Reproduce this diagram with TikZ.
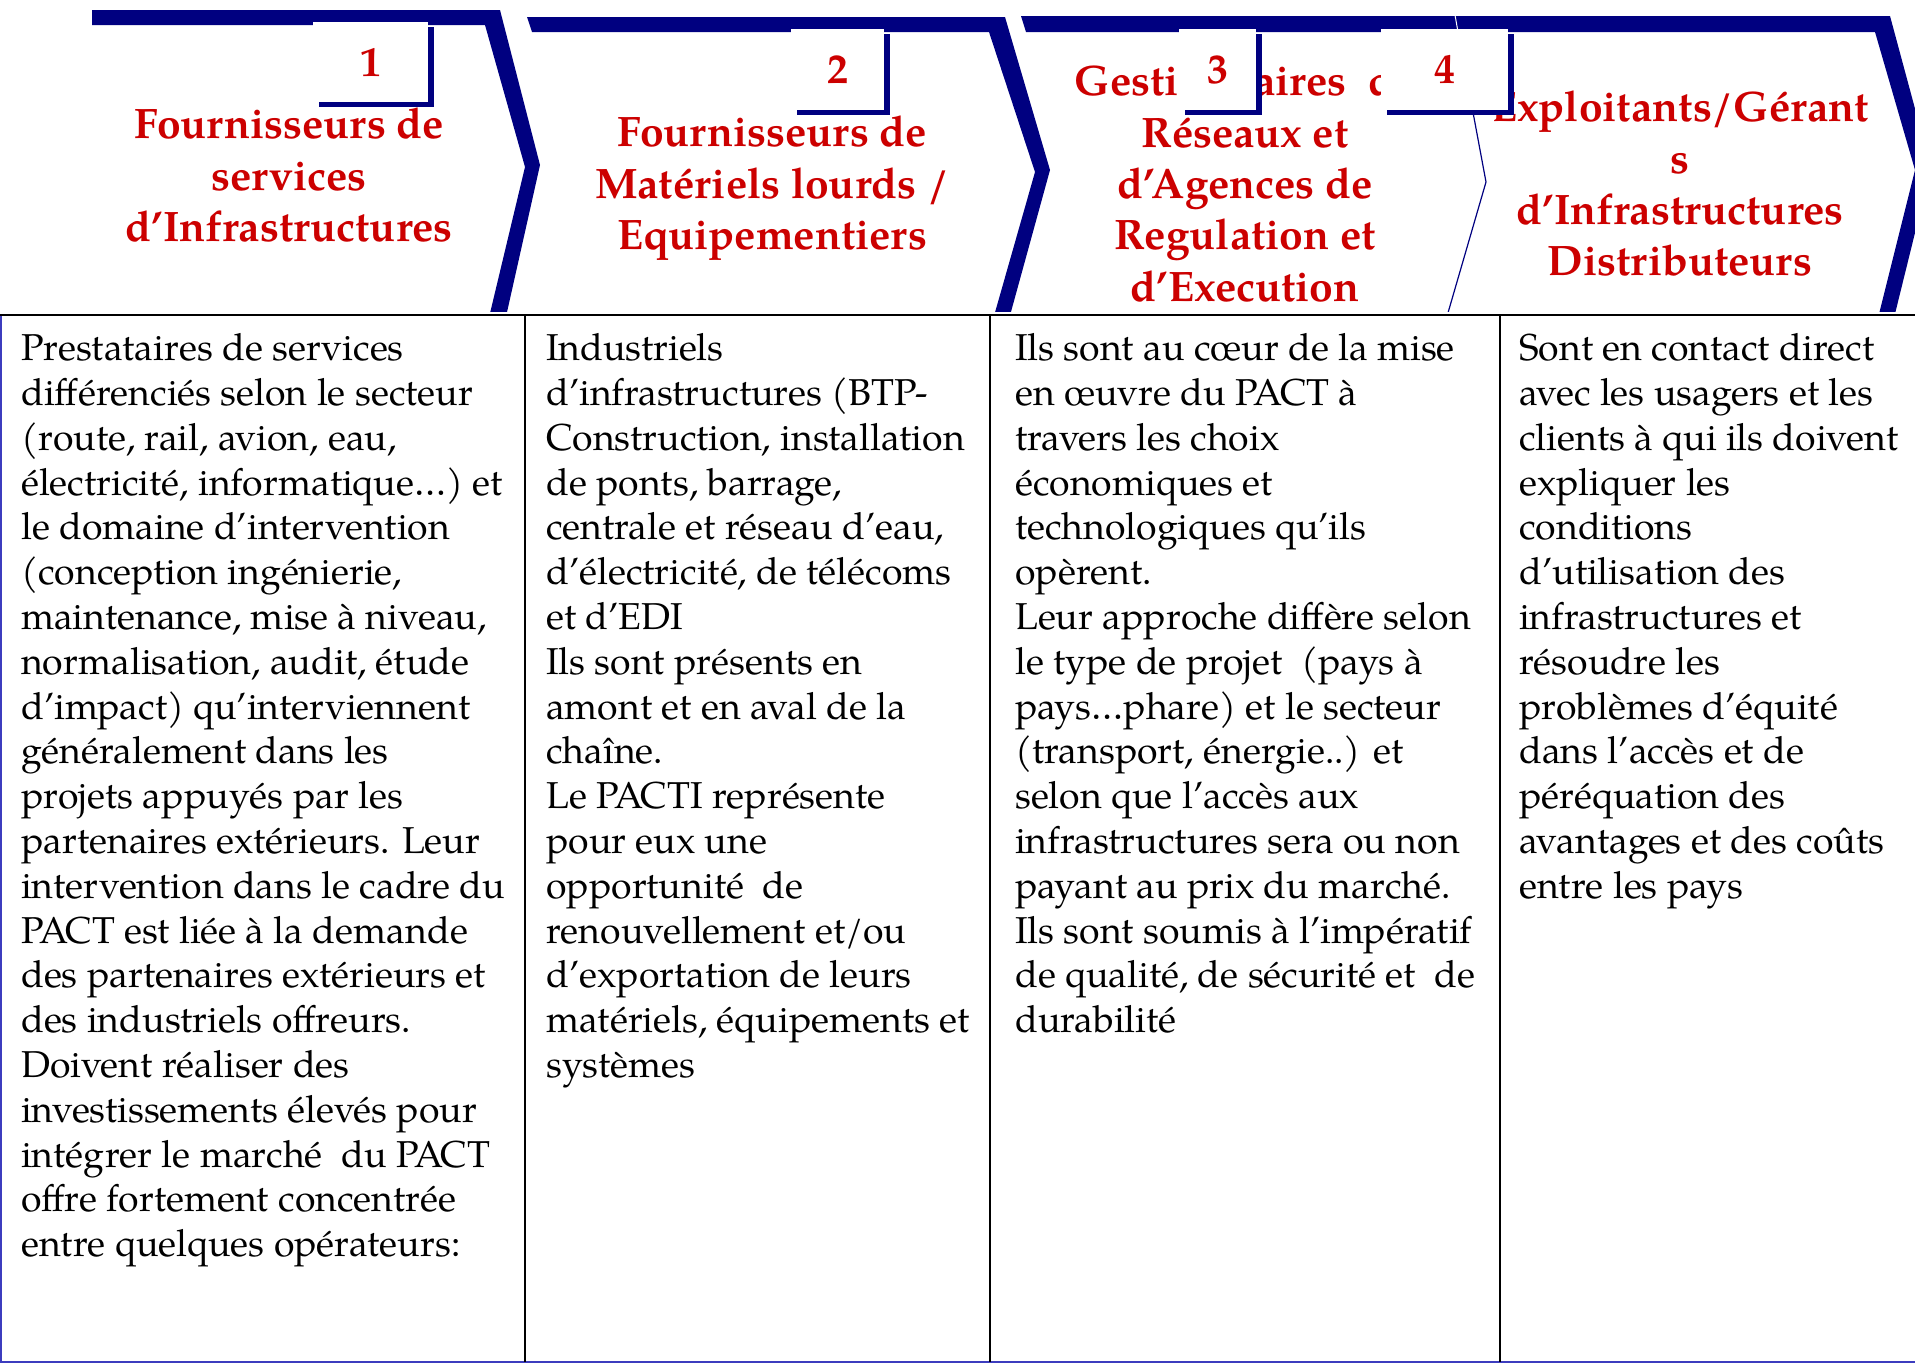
\documentclass[tikz,border=0pt]{standalone}
\usepackage{fontspec}
\setmainfont{TeX Gyre Pagella}
\usetikzlibrary{shadows}
\definecolor{navy}{RGB}{0,0,128}
\definecolor{hdred}{RGB}{204,0,0}
\definecolor{rimblue}{RGB}{60,60,190}
\begin{document}
\begin{tikzpicture}[x=1pt,y=-1pt,
  band/.style={fill=navy,draw=none},
  numbox/.style={fill=white,draw=none,inner sep=0,text=hdred,
     font=\bfseries\fontsize{42}{48}\selectfont,
     drop shadow={shadow xshift=5.5pt,shadow yshift=-5pt,fill=navy,opacity=1}},
  head/.style={text=hdred,font=\bfseries\fontsize{42.6}{51.3}\selectfont,
     align=center,anchor=north,inner sep=0},
  body/.style={font=\fontsize{37.4}{44.8}\selectfont,align=left,
     anchor=north west,inner sep=0},
  sep/.style={draw=black,line width=2.2},
  rim/.style={draw=rimblue,line width=2}]
\useasboundingbox (0,0) rectangle (1915,1365);
\fill[white] (0,0) rectangle (1915,1365);
% chevrons
\begin{scope}
\clip (0,0) rectangle (1915,311);
\fill[band] (92,10) -- (500,10) -- (540,165) -- (503,330) -- (486,330)
   -- (525,167) -- (485,25) -- (92,25) -- cycle;
\fill[band] (527,17) -- (1005,17) -- (1050,170) -- (1006,330) -- (990,330)
   -- (1035,172) -- (989,32) -- (532,32) -- cycle;
\fill[band] (1021,16) -- (1890,16) -- (1931,168) -- (1891,330) -- (1875,330)
   -- (1915,170) -- (1875,32) -- (1026,32) -- cycle;
\draw[white,line width=1] (1455,15) -- (1458,32);
\draw[navy,line width=1.2] (1458,32) -- (1486,182) -- (1443,330);
\end{scope}
% header texts
\node[head] (h1) at (289,108.1) {Fournisseurs de\\services\\d’Infrastructures};
\node[head] (h2) at (772,116.1) {Fournisseurs de\\Matériels lourds /\\Equipementiers};
\node[head] (h3) at (1245,65.1) {Gestionnaires\ \ de\\Réseaux et\\d’Agences de\\Regulation et\\d’Execution};
\node[head] (h4) at (1680,91.1) {Exploitants/Gérant\\s\\d’Infrastructures\\Distributeurs};
% number boxes
\node[numbox,minimum width=115,minimum height=80] (n1) at (370.5,62) {\raisebox{-2pt}{1}};
\node[numbox,minimum width=93,minimum height=81] (n2) at (837.5,69.5) {\raisebox{-2pt}{2}};
\node[numbox,minimum width=77,minimum height=81] (n3) at (1217.5,69.5) {\raisebox{-2pt}{3}};
\node[numbox,minimum width=127,minimum height=81] (n4) at (1444.5,69.5) {\raisebox{-2pt}{4}};
% table
\fill[white] (0,315) rectangle (1915,1365);
\draw[rim] (1,315) -- (1,1362) -- (1915,1362);
\draw[sep,line width=2.8] (0,315) -- (1915,315);
\draw[sep] (525,315) -- (525,1362);
\draw[sep,line width=1.5] (990,315) -- (990,1362);
\draw[sep] (1500,315) -- (1500,1362);
% body texts
\node[body] (c1) at (21,329.1) {\strut Prestataires de services\\
différenciés selon le secteur\\
(route, rail, avion, eau,\\
électricité, informatique…) et\\
le domaine d’intervention\\
(conception ingénierie,\\
maintenance, mise à niveau,\\
normalisation, audit, étude\\
d’impact) qu’interviennent\\
généralement dans les\\
projets appuyés par les\\
partenaires extérieurs. Leur\\
intervention dans le cadre du\\
PACT est liée à la demande\\
des partenaires extérieurs et\\
des industriels offreurs.\\
Doivent réaliser des\\
investissements élevés pour\\
intégrer le marché\ \ du PACT\\
offre fortement concentrée\\
entre quelques opérateurs:};
\node[body] (c2) at (546,329.1) {\strut Industriels\\
d’infrastructures (BTP-\\
Construction, installation\\
de ponts, barrage,\\
centrale et réseau d’eau,\\
d’électricité, de télécoms\\
et d’EDI\\
Ils sont présents en\\
amont et en aval de la\\
chaîne.\\
Le PACTI représente\\
pour eux une\\
opportunité\ \ de\\
renouvellement et/ou\\
d’exportation de leurs\\
matériels, équipements et\\
systèmes};
\node[body] (c3) at (1015,329.1) {\strut Ils sont au cœur de la mise\\
en œuvre du PACT à\\
travers les choix\\
économiques et\\
technologiques qu’ils\\
opèrent.\\
Leur approche diffère selon\\
le type de projet\ \ (pays à\\
pays…phare) et le secteur\\
(transport, énergie..) et\\
selon que l’accès aux\\
infrastructures sera ou non\\
payant au prix du marché.\\
Ils sont soumis à l’impératif\\
de qualité, de sécurité et\ \ de\\
durabilité};
\node[body] (c4) at (1519,329.1) {\strut Sont en contact direct\\
avec les usagers et les\\
clients à qui ils doivent\\
expliquer les\\
conditions\\
d’utilisation des\\
infrastructures et\\
résoudre les\\
problèmes d’équité\\
dans l’accès et de\\
péréquation des\\
avantages et des coûts\\
entre les pays};
\end{tikzpicture}
\end{document}
